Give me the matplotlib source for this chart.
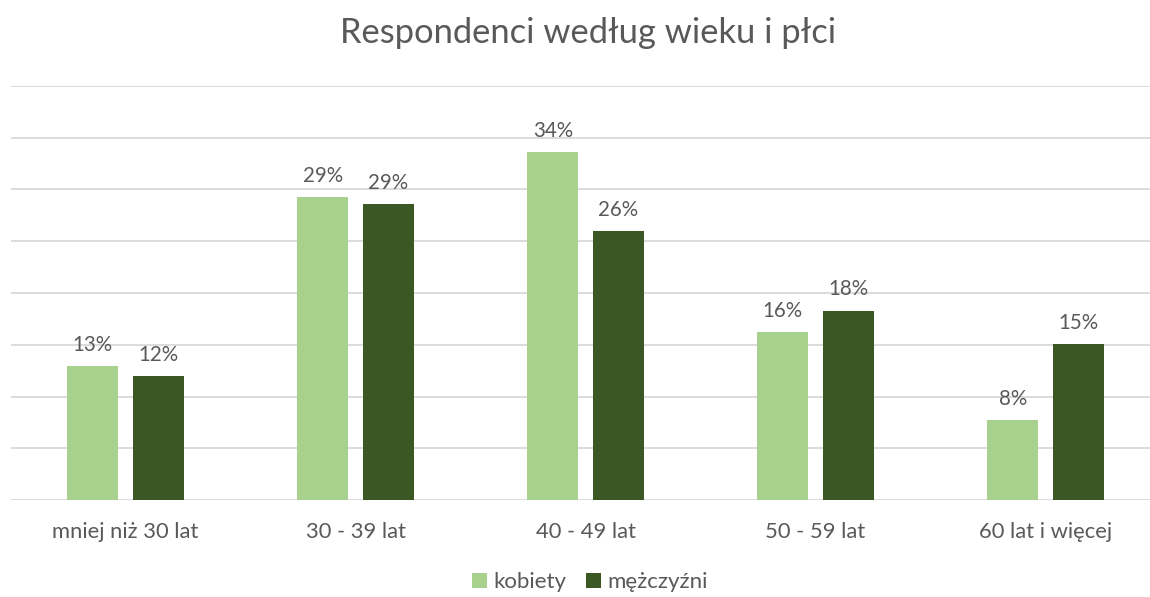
import matplotlib.pyplot as plt
import numpy as np

plt.rcParams['font.family'] = ['Lato', 'DejaVu Sans']

categories = ["mniej niż 30 lat", "30 - 39 lat", "40 - 49 lat", "50 - 59 lat", "60 lat i więcej"]
kobiety = [12.9, 29.3, 33.6, 16.2, 7.7]
mezczyzni = [12.0, 28.6, 26.0, 18.3, 15.1]
series_names = ["kobiety", "mężczyźni"]

light = "#A9D18E"
dark = "#3B5723"
text_c = "#595959"

fig = plt.figure(figsize=(11.5, 5.97), dpi=100)
W, H = 1150, 597
ax = fig.add_axes([10.5 / W, 97 / H, 1150 / W, 414 / H])

x = np.arange(len(categories))
w = 0.222
off = 0.142
b1 = ax.bar(x - off, kobiety, w, color=light, label=series_names[0], zorder=3)
b2 = ax.bar(x + off, mezczyzni, w, color=dark, label=series_names[1], zorder=3)

for bars, vals in ((b1, kobiety), (b2, mezczyzni)):
    for r, v in zip(bars, vals):
        ax.annotate(f"{v:.0f}%", (r.get_x() + r.get_width() / 2, v),
                    xytext=(0, 8), textcoords="offset points",
                    ha="center", va="bottom", fontsize=14.8, color=text_c)

ax.set_xlim(-0.5, 4.5)
ax.set_ylim(0, 40)
ax.set_yticks(np.arange(0, 41, 5))
ax.yaxis.grid(True, color="#D9D9D9", linewidth=1.3, zorder=0)
ax.set_yticklabels([])
ax.tick_params(left=False, bottom=False)
for s in ax.spines.values():
    s.set_visible(False)
ax.set_xticks(x)
ax.set_xticklabels(categories, fontsize=15.8, color=text_c)
ax.tick_params(axis="x", pad=12)

fig.text(588 / W, 1 - 33 / H, "Respondenci według wieku i płci", ha="center", va="center",
         fontsize=24.8, color=text_c)

fig.legend(handles=[b1, b2], loc="center", bbox_to_anchor=(590 / W, 1 - 582 / H),
           ncol=2, frameon=False, fontsize=16, handlelength=0.65, handleheight=0.65,
           handletextpad=0.3, columnspacing=0.9, labelcolor=text_c)

fig.savefig("out.png", dpi=100)
